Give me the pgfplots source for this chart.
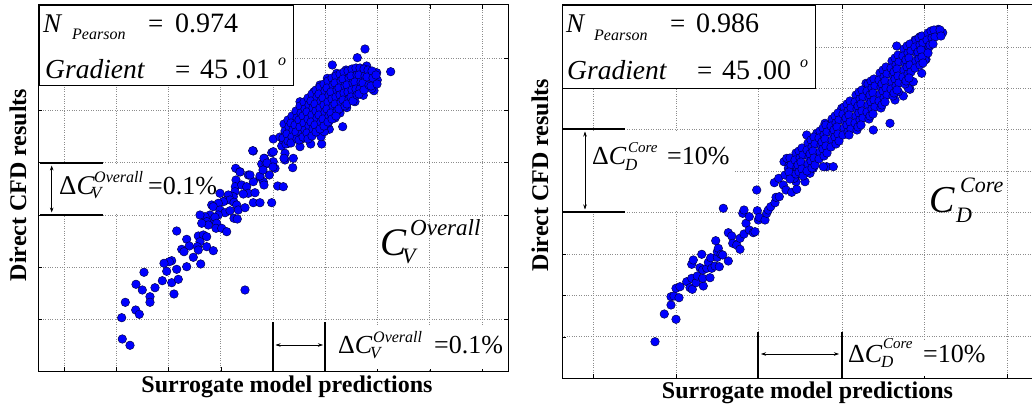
\documentclass[border=0pt]{standalone}
\usepackage{pgfplots}
\pgfplotsset{compat=1.18}
\usepackage{fontspec}
\setmainfont{Liberation Serif}
\usetikzlibrary{arrows.meta}
\newcommand{\fs}[1]{\fontsize{#1}{#1}\selectfont}
\newcommand{\T}[3]{\node[anchor=base west, inner sep=0pt] at (axis cs:#1,#2) {#3};}
\tikzset{
  thk/.style={line width=2.3pt, black},
  dar/.style={{Stealth[length=5pt,width=3.5pt]}-{Stealth[length=5pt,width=3.5pt]}, line width=0.6pt, black},
}
\begin{document}
\begin{tikzpicture}
\path[use as bounding box] (0,0) rectangle (1032pt,409pt);
\clip (0,0) rectangle (1032pt,409pt);
\pgfplotsset{
  panel/.style={
    scale only axis, clip=false, y dir=reverse,
    xticklabels={}, yticklabels={},
    grid=major, grid style={dotted, black!45, line width=0.7pt},
    tick align=inside, major tick length=4pt, tick style={black, line width=0.6pt},
    axis line style={black, line width=1pt},
  },
  pts/.style={only marks, mark=*, mark size=4.3pt, mark options={fill=blue, draw=black!75!blue, line width=0.45pt}},
}
% ================= LEFT PANEL =================
\begin{axis}[panel, at={(38pt,38pt)}, anchor=south west, width=470pt, height=366pt,
  xmin=38, xmax=508, ymin=5, ymax=371,
  xtick={64,116.3,168.5,220.8,273,325.3,377.5,429.8,482},
  ytick={58,110.3,162.6,214.9,267.1,319.4}]
% text box
\draw[black, line width=1pt, fill=white] (axis cs:39,6) rectangle (axis cs:293,86);
\T{43}{33}{\fs{27}\itshape N}
\T{72}{40}{\fs{16}\itshape Pearson}
\T{148}{33}{\fs{27}=}
\T{175}{33}{\fs{28}0.974}
\T{45}{79}{\fs{27.5}\itshape Gradient}
\T{175}{79}{\fs{27}=}
\T{200}{79}{\fs{28}45}
\T{235}{79}{\fs{28}.01}
\T{278}{66}{\fs{16}\itshape o}
% left annotation
\fill[white] (axis cs:40,165) rectangle (axis cs:222,213);
\draw[thk] (axis cs:40,163) -- (axis cs:103,163);
\draw[thk] (axis cs:40,215) -- (axis cs:103,215);
\draw[dar] (axis cs:51.7,165.5) -- (axis cs:51.7,212.5);
\T{59}{194}{\fs{27}Δ\itshape C}
\T{94}{182}{\fs{16}\itshape Overall}
\T{91}{198}{\fs{17}\itshape V}
\T{148}{194}{\fs{26}=0.1\%}
% bottom annotation
\fill[white] (axis cs:247,325) rectangle (axis cs:506,369);
\draw[thk] (axis cs:273.3,322) -- (axis cs:273.3,371);
\draw[thk] (axis cs:325.3,322) -- (axis cs:325.3,371);
\draw[dar] (axis cs:275.5,345) -- (axis cs:323,345);
\T{338}{353}{\fs{26}Δ\itshape C}
\T{373}{342}{\fs{16}\itshape Overall}
\T{370}{358}{\fs{17}\itshape V}
\T{434}{353}{\fs{26}=0.1\%}
% big label
\T{380}{255}{\fs{39}\itshape C}
\T{410}{235}{\fs{23}\itshape Overall}
\T{402}{263}{\fs{22}\itshape V}
% labels
\node[anchor=base, inner sep=0pt] at (axis cs:287,392) {\fs{24}\bfseries Surrogate model predictions};
\node[anchor=base, inner sep=0pt, rotate=90] at (axis cs:26,185) {\fs{24}\bfseries Direct CFD results};
% scatter: sparse part
\addplot[pts] coordinates {
(253.3,151) (264.3,158.3) (261.7,164) (266,164) (273.3,161.7) (271.7,152.7) (275,168.3) (269.3,175) (285,153.3) (285,160)
(235.7,168.3) (240,171.7) (248.3,175) (236,180) (235.3,186.7) (241.7,185) (246.7,186.7) (253.3,181.7) (260,177.3) (263.3,181.7)
(264,185) (248.3,193.3) (255,192.7) (243.3,194) (235,191.7) (233.3,196.7) (228.3,195) (225,200.7) (230,200) (234,202.3)
(236.7,205) (238.3,210) (245,207.7) (253.3,202.7) (260,202.7) (271.7,202.7) (277.7,186) (283.3,186.7) (220,193.3) (223.3,201.7)
(218.3,203.3) (211.7,205) (213.3,206.7) (220,210) (225,212.7) (230,210.7) (234,218.3) (237.3,219) (210,215) (213.3,220)
(218.3,215) (215,217.3) (205,216.7) (200,215) (206.7,221.7) (208.3,225) (216.7,223.3) (216,228.3) (221.7,228.3) (226.7,231.7)
(201.7,223.3) (176.7,231) (186.7,239.3) (189.3,246) (181.7,249.3) (184,251.7) (198.3,236) (203.3,235) (206.7,236.7) (200,241.7)
(197.3,246.7) (198.3,250) (193.3,257.3) (200.7,264) (206.7,246.7) (213.3,250.7) (186.7,266.7) (176.7,269.3) (171.7,260.7) (169.3,261.7)
(164,263.3) (166.7,271.3) (162.3,280.7) (171.7,282.7) (174,294) (178.3,279.3) (155,287.7) (144,272.3) (136,284.3) (142.3,290)
(150,296.7) (150,302.3) (125.3,302.3) (135.7,310) (139.3,314.3) (121.7,317.7) (122.3,339) (130,345.3) (245,290)
(365,49) (357.3,57.7) (332.3,65) (390.7,71.7) (376.7,72.7) (374,90.7) (314,91.7) (300,101.7) (342.7,126.7) (252.7,150.7)
(273.3,139) (273.3,151.7) (264,158.3) (293.3,158.3) (292.7,167.7) (284,158.3) (321.7,144) (310.7,144) (303.3,138.3) (300,146.7)
(288.3,143.3) (281.7,146) (321,136.7) (329.3,129.3) (324.3,131.7) (280,137) (283,140) (290,137) (267,163) (273,167)
(240,172) (250,175) (260,176) (263,170)
(320,85) (327.3,78.3) (336.7,73.3) (346,70) (366.7,66) (377.3,80) (371.7,88.7) (363.3,95.3) (355,101.7) (346.7,107.7)
(340,113) (335,118) (328.3,123) (311.7,131) (303.3,133)
};
% scatter: dense part
\addplot[pts] coordinates {
(284,124) (285,131) (283,138) (286,144)
(288,120) (289,127) (287,134) (288,141)
(292,116) (291,123) (293,130) (292,137) (291,143)
(296,111) (297,118) (295,125) (296,132) (297,139)
(300,106) (301,113) (299,120) (300,127) (302,134) (299,140)
(304,102) (305,109) (303,116) (304,123) (305,130) (303,137)
(308,98) (309,105) (307,112) (308,119) (309,126) (307,133) (308,139)
(312,94) (311,101) (313,108) (312,115) (311,122) (313,129) (312,136)
(316,90) (317,97) (315,104) (316,111) (317,118) (315,125) (316,132)
(320,87) (319,94) (321,101) (320,108) (319,115) (321,122) (320,129)
(324,84) (325,91) (323,98) (324,105) (325,112) (323,119) (324,126)
(328,81) (327,88) (329,95) (328,102) (327,109) (329,116) (328,122)
(332,78) (333,85) (331,92) (332,99) (333,106) (331,113) (332,119)
(336,76) (335,83) (337,90) (336,97) (335,104) (337,111) (336,116)
(340,74) (341,81) (339,88) (340,95) (341,102) (339,109)
(344,72) (343,79) (345,86) (344,93) (343,100) (345,106)
(348,71) (349,78) (347,85) (348,92) (349,99) (347,104)
(352,69) (351,76) (353,83) (352,90) (351,97) (353,101)
(356,68) (357,75) (355,82) (356,89) (357,95)
(360,68) (359,75) (361,82) (360,89) (359,94)
(364,69) (365,76) (363,83) (364,90)
(368,70) (367,77) (369,85)
(372,71) (373,78) (371,86)
(376,75) (377,84)
};
\end{axis}
% ================= RIGHT PANEL =================
\begin{axis}[panel, at={(562pt,31pt)}, anchor=south west, width=480pt, height=373pt,
  xmin=562, xmax=1042, ymin=5, ymax=378,
  xtick={593,676,758,842,924,1007},
  ytick={47,88.4,129.8,171.2,212.6,254,295.4,336.8}]
\draw[black, line width=1pt, fill=white] (axis cs:562,6) rectangle (axis cs:815.7,88.3);
\T{566}{33}{\fs{27}\itshape N}
\T{594}{41}{\fs{16}\itshape Pearson}
\T{670}{33}{\fs{27}=}
\T{696}{33}{\fs{28}0.986}
\T{567}{80}{\fs{27.5}\itshape Gradient}
\T{697}{80}{\fs{27}=}
\T{722}{80}{\fs{28}45}
\T{756}{80}{\fs{28}.00}
\T{800}{68}{\fs{16}\itshape o}
% left annotation
\fill[white] (axis cs:563,131) rectangle (axis cs:735,210);
\draw[thk] (axis cs:562,129) -- (axis cs:625,129);
\draw[thk] (axis cs:562,212) -- (axis cs:625,212);
\draw[dar] (axis cs:585,131.5) -- (axis cs:585,209.5);
\T{592}{164}{\fs{26}Δ\itshape C}
\T{628}{152}{\fs{15}\itshape Core}
\T{625}{170}{\fs{17}\itshape D}
\T{667}{164}{\fs{26}=10\%}
% bottom annotation
\fill[white] (axis cs:757,340) rectangle (axis cs:990,376);
\draw[thk] (axis cs:758.3,332) -- (axis cs:758.3,378);
\draw[thk] (axis cs:841.7,332) -- (axis cs:841.7,378);
\draw[dar] (axis cs:761,354) -- (axis cs:839,354);
\T{848}{362}{\fs{26}Δ\itshape C}
\T{883}{348}{\fs{15}\itshape Core}
\T{881}{367}{\fs{17}\itshape D}
\T{923}{362}{\fs{26}=10\%}
% big label
\T{929}{212}{\fs{38}\itshape C}
\T{960}{192}{\fs{22}\itshape Core}
\T{956}{222}{\fs{22}\itshape D}
% labels
\node[anchor=base, inner sep=0pt] at (axis cs:807.5,398) {\fs{24}\bfseries Surrogate model predictions};
\node[anchor=base, inner sep=0pt, rotate=90] at (axis cs:548,175) {\fs{24}\bfseries Direct CFD results};
% scatter sparse
\addplot[pts] coordinates {
(655,341.7) (664.3,314) (676,319.3) (671,305) (671,296.7) (674,296) (679,297.7) (676,288.3) (680,286.7) (686.7,281.7)
(690,287.7) (692.3,289.3) (691.7,278.3) (696,282.7) (697.3,276) (703.3,286) (702.7,278.3) (710,277.7) (691.7,264.3) (693.3,260)
(701.7,254.3) (700,267.7) (702.7,270) (706.7,268.3) (708.3,262.3) (710.7,257.7) (711.7,268.3) (715,266) (719.3,266.7) (717.3,257.3)
(717.3,251.7) (718.3,248.3) (715.7,240.7) (721,254.3) (722.7,255) (728.3,261) (723.3,208.3) (728.3,232.7) (731.7,236) (732.7,243.3)
(736.7,245) (740,249.3) (740,238.3) (744,234) (746,223.3) (749.3,230) (742.7,213.3) (744,210) (749.3,216.7) (753.3,232.7)
(755,231.7) (756.7,190) (757.3,210.7) (758.3,220) (759.3,217.3) (765,220) (766.7,213.3) (768.3,210) (770.7,206.7) (775,202.7)
(776,197.3) (779.3,196.7) (774.3,182.7) (778.7,178.3) (783.3,185) (786,190) (791.7,192.3) (784,161.7) (789,165) (791.7,175)
(796,181.7) (796.7,189.3) (795,170)
(786.7,158.3) (791.7,166.7) (785,175) (795,176.7) (810,173.3) (813.3,168.3) (826.7,166.7) (833.3,166.7) (820,153) (806.7,135)
(825,123.3) (816.7,133.3) (830,130) (896.7,46) (926,59.3) (921.7,73.3) (910,89.3) (903.3,96) (890,123.3) (873.3,130)
(866,83.3) (841.7,108.3) (942.7,32.7) (938.3,29.3) (920,36.7) (915,40) (926.7,46.7) (895,100) (898.3,91.7) (908.3,88.3)
(913.3,81.7) (925,60) (823.3,166.7) (788.3,168.3) (800,173.3) (805,181.7) (794.3,178.3)
};
% scatter dense
\addplot[pts] coordinates {
(790,158) (791,165) (789,172) (790,179)
(796,153) (795,160) (797,167) (796,174)
(799,151) (800,158) (798,165) (799,172)
(802,148) (803,155) (801,162) (802,169) (803,176)
(808,143) (807,150) (809,157) (808,164) (807,171)
(811,140) (812,147) (810,154) (811,161) (812,168)
(814,137) (815,144) (813,151) (814,158) (815,165)
(820,131) (819,138) (821,145) (820,152) (819,159)
(823,128) (824,135) (822,142) (823,149) (824,156)
(826,125) (827,132) (825,139) (826,146) (827,153)
(832,119) (831,126) (833,133) (832,140) (831,147)
(835,116) (836,123) (834,130) (835,137) (836,144)
(838,113) (839,120) (837,127) (838,134) (839,141)
(844,107) (843,114) (845,121) (844,128) (843,135)
(847,104) (848,111) (846,118) (847,125) (848,132)
(850,101) (851,108) (849,115) (850,122) (851,129) (849,135)
(856,95) (855,102) (857,109) (856,116) (855,123) (857,130)
(859,92) (860,99) (858,106) (859,113) (860,120) (858,127)
(862,90) (863,97) (861,104) (862,111) (863,118) (861,125)
(868,84) (867,91) (869,98) (868,105) (867,112) (869,119)
(871,81) (872,88) (870,95) (871,102) (872,109) (870,116)
(874,79) (875,86) (873,93) (874,100) (875,107) (873,114)
(880,73) (879,80) (881,87) (880,94) (879,101) (881,108)
(883,70) (884,77) (882,84) (883,91) (884,98) (882,105)
(886,67) (887,74) (885,81) (886,88) (887,95) (885,102)
(892,61) (891,68) (893,75) (892,82) (891,89) (893,96)
(895,58) (896,65) (894,72) (895,79) (896,86) (894,93)
(898,55) (899,62) (897,69) (898,76) (899,83) (897,90)
(904,49) (903,56) (905,63) (904,70) (903,77) (905,84)
(907,46) (908,53) (906,60) (907,67) (908,74) (906,81)
(910,44) (911,51) (909,58) (910,65) (911,72) (909,78)
(916,40) (915,47) (917,54) (916,61) (915,68)
(919,38) (920,45) (918,52) (919,59) (920,65)
(922,36) (923,43) (921,50) (922,57) (923,63)
(928,33) (927,40) (929,47) (928,53)
(931,31) (932,38) (930,45)
(934,30) (935,37) (933,44)
(940,30) (941,36)
};
\end{axis}
\end{tikzpicture}
\end{document}
